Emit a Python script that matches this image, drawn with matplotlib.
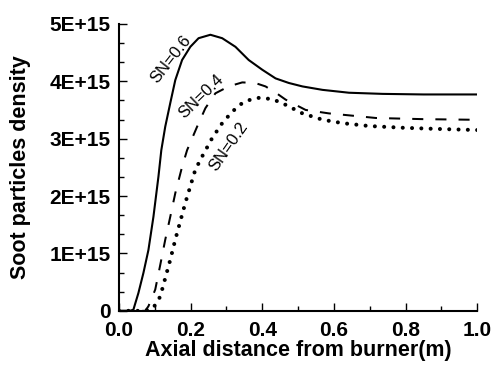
import numpy as np
import matplotlib.pyplot as plt
from matplotlib.ticker import MultipleLocator, FuncFormatter

# values (x in m, y in units of 1E+15)
x_06 = [0.0, 0.03, 0.04, 0.054, 0.068, 0.082, 0.096, 0.110, 0.118, 0.129, 0.143,
        0.157, 0.176, 0.199, 0.222, 0.255, 0.288, 0.325, 0.362, 0.40, 0.437,
        0.474, 0.512, 0.568, 0.642, 0.736, 0.85, 1.0]
y_06 = [0.0, 0.0, 0.02, 0.31, 0.66, 1.06, 1.64, 2.34, 2.8, 3.21, 3.62,
        4.02, 4.37, 4.6, 4.75, 4.81, 4.75, 4.6, 4.37, 4.2, 4.05,
        3.97, 3.91, 3.85, 3.80, 3.78, 3.77, 3.77]

x_04 = [0.0, 0.06, 0.073, 0.082, 0.101, 0.115, 0.129, 0.143, 0.157, 0.176, 0.19,
        0.218, 0.241, 0.269, 0.306, 0.344, 0.38, 0.409, 0.44, 0.465, 0.521,
        0.586, 0.652, 0.717, 0.782, 0.848, 0.978, 1.0]
y_04 = [0.0, 0.0, 0.0, 0.08, 0.37, 0.8, 1.24, 1.64, 2.05, 2.51, 2.8,
        3.21, 3.53, 3.79, 3.91, 3.98, 3.97, 3.91, 3.79, 3.68, 3.50,
        3.44, 3.40, 3.36, 3.35, 3.34, 3.33, 3.33]

x_02 = [0.0, 0.07, 0.09, 0.101, 0.115, 0.129, 0.143, 0.157, 0.171, 0.185, 0.199,
        0.213, 0.232, 0.26, 0.288, 0.316, 0.344, 0.367, 0.39, 0.428, 0.465,
        0.512, 0.568, 0.624, 0.698, 0.792, 0.885, 1.0]
y_02 = [0.0, 0.0, 0.03, 0.1, 0.25, 0.57, 0.89, 1.24, 1.56, 1.88, 2.17,
        2.46, 2.69, 3.01, 3.27, 3.47, 3.62, 3.68, 3.71, 3.69, 3.59,
        3.44, 3.33, 3.27, 3.22, 3.19, 3.17, 3.15]

scale = 1e15

plt.rcParams['font.family'] = ['Liberation Sans', 'DejaVu Sans']
fig = plt.figure(figsize=(4.94, 3.67), dpi=100)
ax = fig.add_axes([0.241, 0.153, 0.725, 0.782])

ax.plot(x_06, np.array(y_06) * scale, color='black', lw=1.5, ls='-')
ax.plot(x_04, np.array(y_04) * scale, color='black', lw=1.45, ls=(0, (5.5, 6)))
ax.plot(x_02, np.array(y_02) * scale, color='black', lw=2.9, ls=(0, (0.01, 2.3)),
        dash_capstyle='round')

ax.set_xlim(0, 1.0)
ax.set_ylim(0, 5e15)

ax.xaxis.set_major_locator(MultipleLocator(0.2))
ax.xaxis.set_minor_locator(MultipleLocator(0.1))
ax.yaxis.set_major_locator(MultipleLocator(1e15))
ax.yaxis.set_minor_locator(MultipleLocator(1e15 / 3))

ax.xaxis.set_major_formatter(FuncFormatter(lambda v, p: f'{v:.1f}'))
ax.yaxis.set_major_formatter(FuncFormatter(
    lambda v, p: '0' if v == 0 else f'{int(round(v / 1e15))}E+15'))

for s in ['top', 'right']:
    ax.spines[s].set_visible(False)
for s in ['left', 'bottom']:
    ax.spines[s].set_linewidth(1.5)

ax.tick_params(which='major', direction='in', length=5.8, width=1.0)
ax.tick_params(which='minor', direction='in', length=3.6, width=1.0)
ax.tick_params(axis='y', which='major', pad=6, labelsize=15)
ax.tick_params(axis='x', which='major', pad=7, labelsize=15)
for lab in ax.get_xticklabels() + ax.get_yticklabels():
    lab.set_fontweight('bold')

ax.set_xlabel('Axial distance from burner(m)', fontsize=15.5, fontweight='bold')
ax.set_ylabel('Soot particles density', fontsize=15.5, fontweight='bold')
ax.xaxis.set_label_coords(0.5, -0.1)
ax.yaxis.set_label_coords(-0.245, 0.5)

ax.text(0.146, 4.39e15, 'SN=0.6', rotation=52, fontsize=12, ha='center', va='center')
ax.text(0.229, 3.73e15, 'SN=0.4', rotation=44, fontsize=12, ha='center', va='center')
ax.text(0.306, 2.86e15, 'SN=0.2', rotation=55, fontsize=12, ha='center', va='center')

fig.savefig('out.png', dpi=100)
